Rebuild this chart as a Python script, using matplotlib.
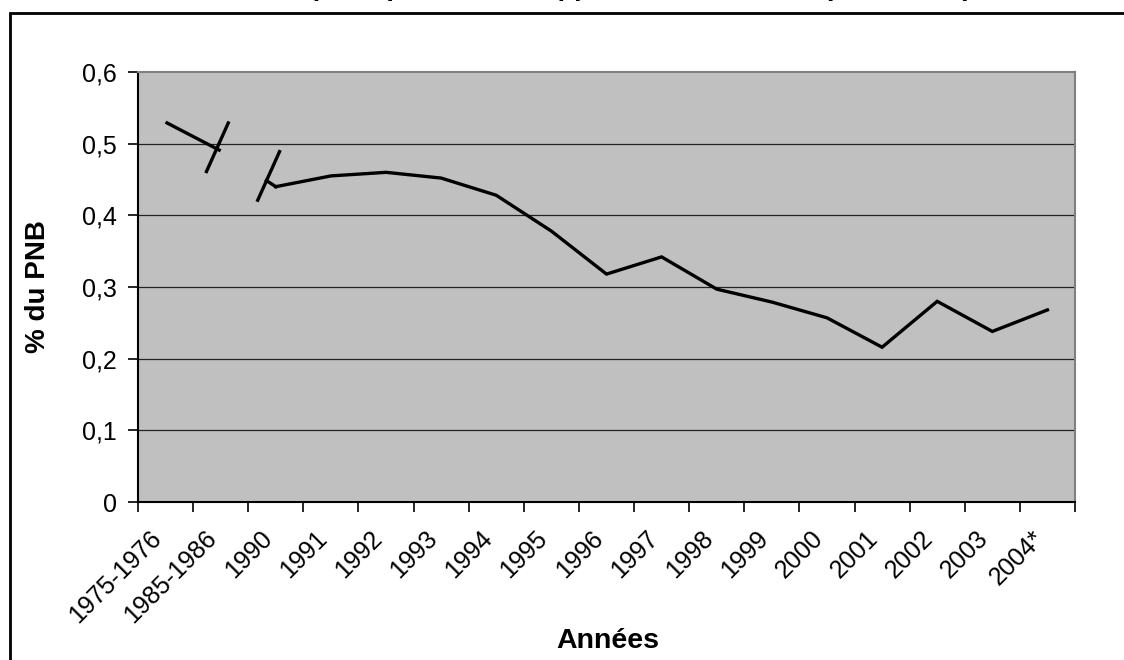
import numpy as np
import matplotlib
matplotlib.use("Agg")
import matplotlib.pyplot as plt
from matplotlib.patches import Rectangle
from matplotlib.transforms import ScaledTranslation

plt.rcParams['font.family'] = ['Liberation Sans', 'DejaVu Sans']

periodes = ['1975-1976', '1985-1986', '1990', '1991', '1992', '1993', '1994', '1995',
            '1996', '1997', '1998', '1999', '2000', '2001', '2002', '2003', '2004*']
apd_pnb = [0.53, 0.49, 0.44, 0.455, 0.46, 0.452, 0.428, 0.378,
           0.318, 0.342, 0.297, 0.279, 0.257, 0.216, 0.28, 0.238, 0.268]
y_ticks = [0, 0.1, 0.2, 0.3, 0.4, 0.5, 0.6]
y_labels = ['0', '0,1', '0,2', '0,3', '0,4', '0,5', '0,6']

W, H = 1124, 660
fig = plt.figure(figsize=(W / 100, H / 100), dpi=100)
ax = fig.add_axes([138 / W, 1 - 502 / H, (1075 - 138) / W, (502 - 72) / H])

x = np.arange(len(periodes))
y = np.array(apd_pnb)

ax.set_facecolor('#C0C0C0')
for v in y_ticks[1:-1]:
    ax.axhline(v, color='#222222', lw=0.9, zorder=1)

lw = 2.4
# axis break: first two periods, then yearly series
ax.plot(x[:2], y[:2], color='black', lw=lw, zorder=3, solid_capstyle='butt')
ax.plot(x[2:], y[2:], color='black', lw=lw, zorder=3, solid_joinstyle='miter')
xs = np.array([1.83, 2])
ax.plot(xs, np.interp(xs, x, y), color='black', lw=lw, zorder=3)

# break marks
for cx, cy in [(0.94, 0.495), (1.87, 0.455)]:
    ax.plot([cx - 0.21, cx + 0.21], [cy - 0.036, cy + 0.036], color='black', lw=lw,
            zorder=4, solid_capstyle='butt')

ax.set_xlim(-0.5, len(periodes) - 0.5)
ax.set_ylim(0, 0.6)
ax.set_yticks(y_ticks)
ax.set_yticklabels(y_labels, fontsize=18)
ax.set_xticks(np.arange(len(periodes) + 1) - 0.5)
ax.set_xticklabels([])
ax.set_xticks(x, minor=True)
ax.set_xticklabels(periodes, minor=True, rotation=45, ha='right',
                   rotation_mode='anchor', fontsize=18)
ax.tick_params(axis='x', which='minor', length=0, pad=14)
ax.tick_params(axis='both', which='major', length=7, width=1.2, color='black', direction='out')
ax.tick_params(axis='y', pad=8)
shift = ScaledTranslation(-16 / 100, -5 / 100, fig.dpi_scale_trans)
for lab in ax.get_xticklabels(minor=True):
    lab.set_transform(lab.get_transform() + shift)

for side in ['top', 'right']:
    ax.spines[side].set_color('#808080')
    ax.spines[side].set_linewidth(1.5)
for side in ['left', 'bottom']:
    ax.spines[side].set_color('black')
    ax.spines[side].set_linewidth(1.5)

fig.text(38 / W, 1 - 287 / H, '% du PNB', rotation=90, ha='center', va='center',
         fontsize=20, fontweight='bold')
fig.text(608 / W, 1 - 641 / H, 'Années', ha='center', va='center',
         fontsize=20.5, fontweight='bold')
fig.text(972 / W, 1 + 5 / H, "L'aide publique au développement du Canada (% du PNB)",
         ha='right', va='baseline', fontsize=19.5, fontweight='bold')

fig.patches.append(Rectangle((10 / W, -0.1), 1.2, 1 - 13 / H + 0.1, transform=fig.transFigure,
                             fill=False, edgecolor='black', lw=2))

fig.savefig('out.png', dpi=100)
